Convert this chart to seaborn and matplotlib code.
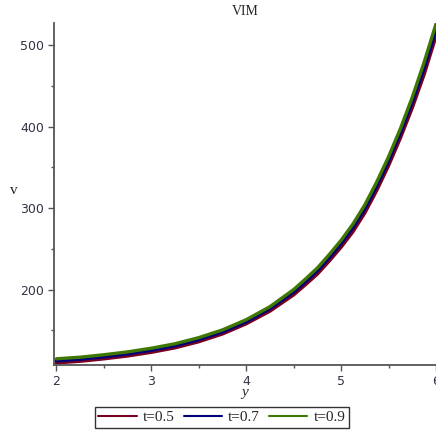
import numpy as np
import pandas as pd
import matplotlib
matplotlib.use('Agg')
import matplotlib.pyplot as plt
from matplotlib.ticker import MultipleLocator
import seaborn as sns

# values (v against y for three t values)
y_vals = [2.0, 2.25, 2.5, 2.75, 3.0, 3.25, 3.5, 3.75, 4.0, 4.25, 4.5, 4.625, 4.75,
          4.875, 5.0, 5.125, 5.25, 5.375, 5.5, 5.625, 5.75, 5.875, 6.0]
v_t05 = [110, 112, 115, 118.5, 123, 128.5, 136, 145.5, 158, 173.5, 193.5, 206, 219,
         235, 252, 271, 294, 321.5, 352, 386, 423, 464, 511]
v_t07 = [112.5, 114.5, 117.5, 121, 125.5, 131, 138.5, 148, 160.5, 176.5, 197, 209.5, 223,
         239, 256.5, 276, 299, 327, 358, 392, 430, 472, 519]
v_t09 = [115, 117, 120, 123.5, 128, 133.5, 141, 150.5, 163, 179, 200, 213, 226.5,
         243, 260.5, 280.5, 304, 332, 363, 397.5, 436, 479, 526]
labels = ['t=0.5', 't=0.7', 't=0.9']
colors = ['#7a0020', '#00007a', '#3f7800']

df = pd.concat([
    pd.DataFrame({'y': y_vals, 'v': v, 'series': lab})
    for v, lab in zip([v_t05, v_t07, v_t09], labels)
])

sns.set_style('white')
plt.rcParams['font.family'] = ['DejaVu Sans']

fig = plt.figure(figsize=(4.36, 4.36), dpi=100)
ax = fig.add_axes([0.124, 0.163, 0.876, 0.784])

sns.lineplot(data=df, x='y', y='v', hue='series', palette=colors, ax=ax,
             linewidth=2.4, legend=False, sort=True)

ax.set_xlim(1.975, 6.0)
ax.set_ylim(107.5, 527)
ax.xaxis.set_major_locator(MultipleLocator(1))
ax.xaxis.set_minor_locator(MultipleLocator(0.5))
ax.yaxis.set_major_locator(MultipleLocator(100))
ax.yaxis.set_minor_locator(MultipleLocator(50))
ax.set_yticks([200, 300, 400, 500])

for s in ['top', 'right']:
    ax.spines[s].set_visible(False)
for s in ['left', 'bottom']:
    ax.spines[s].set_color('#555555')
    ax.spines[s].set_linewidth(1.3)

ax.tick_params(which='major', direction='out', length=4, width=1, color='#555555',
               labelsize=9, labelcolor='#333344', pad=3)
ax.tick_params(which='minor', direction='out', length=2, width=1, color='#555555')
ax.tick_params(axis='x', which='both', bottom=True)
ax.tick_params(axis='y', which='both', left=True)

ax.set_xlabel('y', family='Liberation Serif', style='italic', fontsize=11, labelpad=-1)
ax.set_ylabel('')
fig.text(14 / 436, 1 - 190 / 436, 'v', family='Liberation Serif', fontsize=11,
         ha='center', va='center')
ax.set_title('VIM', family='Liberation Serif', fontsize=10, pad=6)

handles = [plt.Line2D([], [], color=c, linewidth=1.5) for c in colors]
leg = fig.legend(handles, labels, loc='center', bbox_to_anchor=(0.509, 0.043), ncol=3,
                 frameon=True, fancybox=False, edgecolor='black', handlelength=2.5,
                 columnspacing=0.6, handletextpad=0.4, borderpad=0.25,
                 prop={'family': 'Liberation Serif', 'size': 11})
leg.get_frame().set_linewidth(1.0)

fig.savefig('out.png', dpi=100)
